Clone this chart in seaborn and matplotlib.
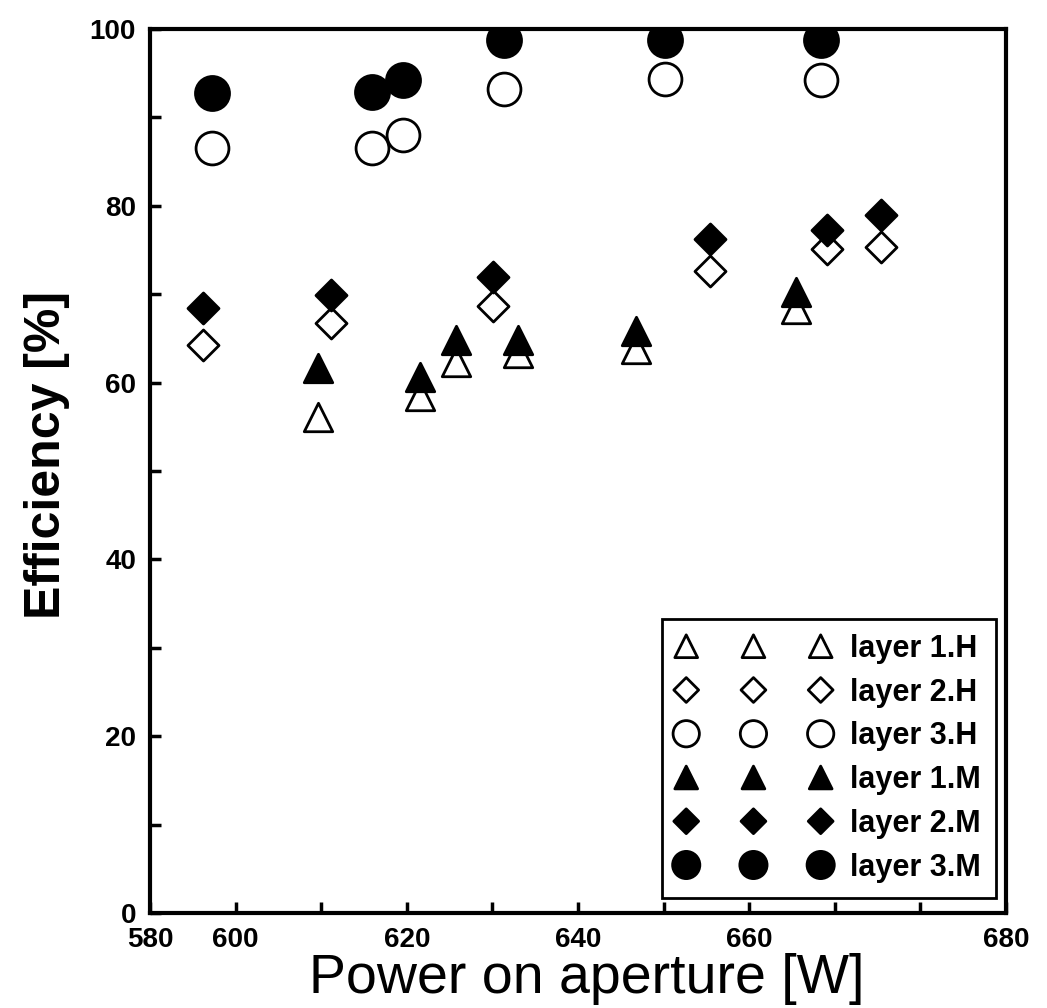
import numpy as np
import pandas as pd
import matplotlib
matplotlib.use('Agg')
import matplotlib.pyplot as plt
import seaborn as sns

# data (x axis drawn 580..680, ticks every 10 W)
p_l1h = [599.6, 611.6, 615.8, 623.0, 636.8, 655.5]
e_l1h = [56.1, 58.5, 62.3, 63.4, 63.8, 68.3]
p_l2h = [586.2, 601.1, 620.1, 645.4, 659.1, 665.4]
e_l2h = [64.3, 66.7, 68.7, 72.6, 75.1, 75.3]
p_l3h = [587.3, 605.9, 609.6, 621.4, 640.2, 658.4]
e_l3h = [86.5, 86.5, 88.0, 93.2, 94.3, 94.2]
p_l1m = [599.6, 611.6, 615.8, 623.0, 636.8, 655.5]
e_l1m = [61.7, 60.6, 64.8, 64.8, 65.8, 70.2]
p_l2m = [586.2, 601.1, 620.1, 645.4, 659.1, 665.4]
e_l2m = [68.4, 69.9, 71.9, 76.2, 77.3, 79.0]
p_l3m = [587.3, 605.9, 609.6, 621.4, 640.2, 658.4]
e_l3m = [92.8, 92.9, 94.2, 98.8, 98.8, 98.7]

labels = ['layer 1.H', 'layer 2.H', 'layer 3.H', 'layer 1.M', 'layer 2.M', 'layer 3.M']
xtick_pos = [580, 590, 600, 610, 620, 630, 640, 650, 660, 670, 680]
xtick_labels = ['580', '600', '', '620', '', '640', '', '660', '', '', '680']
ytick_pos = [0, 10, 20, 30, 40, 50, 60, 70, 80, 90, 100]
ytick_labels = ['0', '', '20', '', '40', '', '60', '', '80', '', '100']

sns.set_style('white')
plt.rcParams['font.family'] = ['Liberation Sans', 'DejaVu Sans']
plt.rcParams['text.color'] = 'black'
plt.rcParams['axes.labelcolor'] = 'black'
plt.rcParams['xtick.color'] = 'black'
plt.rcParams['ytick.color'] = 'black'

fig = plt.figure(figsize=(10.47, 10.08), dpi=100)
ax = fig.add_axes([150 / 1047, 95 / 1008, 856 / 1047, 884 / 1008])

series = [
    (p_l1h, e_l1h, '^', 'white', 420),
    (p_l2h, e_l2h, 'D', 'white', 250),
    (p_l3h, e_l3h, 'o', 'white', 560),
    (p_l1m, e_l1m, '^', 'black', 420),
    (p_l2m, e_l2m, 'D', 'black', 250),
    (p_l3m, e_l3m, 'o', 'black', 600),
]
for (px, ey, mk, fc, sz), lab in zip(series, labels):
    sns.scatterplot(x=px, y=ey, marker=mk, s=sz, facecolor=fc,
                    edgecolor='black', linewidth=2.0, label=lab, ax=ax,
                    zorder=3)

ax.set_xlim(580, 680)
ax.set_ylim(0, 100)
ax.set_xticks(xtick_pos)
ax.set_xticklabels(xtick_labels)
ax.set_yticks(ytick_pos)
ax.set_yticklabels(ytick_labels)
ax.tick_params(axis='both', direction='in', length=8, width=2.5,
               labelsize=20, pad=10, top=False, right=False,
               bottom=True, left=True)
for t in ax.get_xticklabels() + ax.get_yticklabels():
    t.set_fontweight('bold')

for s in ax.spines.values():
    s.set_linewidth(3)
    s.set_color('black')

ax.set_xlabel('Power on aperture [W]', fontsize=40)
ax.xaxis.label.set_va('bottom')
ax.xaxis.set_label_coords(0.51, -92 / 884)
ax.set_ylabel('Efficiency [%]', fontsize=36, fontweight='bold')
ax.yaxis.set_label_coords(-0.093, 0.518)

leg = ax.legend(loc='lower right', bbox_to_anchor=(0.988, 0.017),
                borderaxespad=0, scatterpoints=3, scatteryoffsets=[0.5],
                markerscale=0.8, handlelength=5.0, handletextpad=0.65,
                labelspacing=0.45, borderpad=0.5, fancybox=False,
                frameon=True, prop={'weight': 'bold', 'size': 22})
leg.get_frame().set_edgecolor('black')
leg.get_frame().set_linewidth(2)
leg.get_frame().set_alpha(1)

fig.savefig('out.png', dpi=100)
